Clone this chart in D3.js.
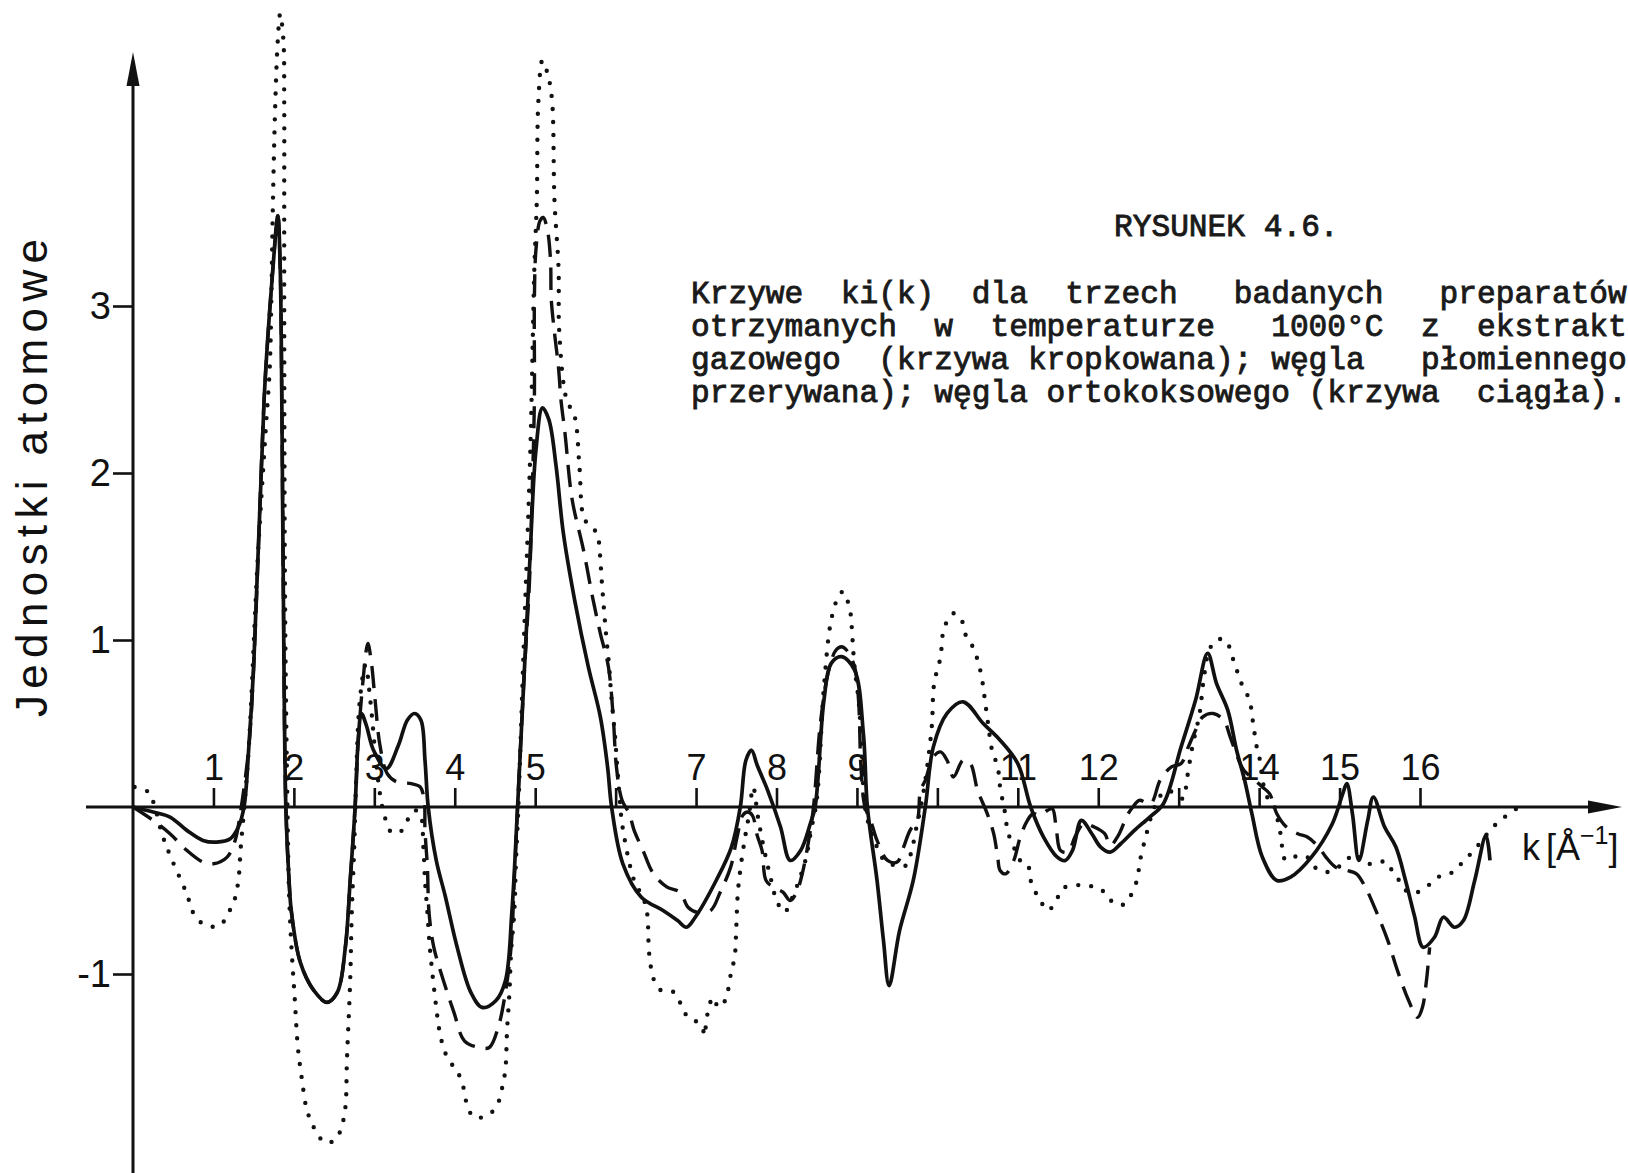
<!DOCTYPE html>
<html>
<head>
<meta charset="utf-8">
<script src="https://cdn.jsdelivr.net/npm/d3@7"></script>
<style>
  html, body { margin: 0; padding: 0; background: #fff; }
  svg { display: block; }
</style>
</head>
<body>
<svg id="chart" width="1628" height="1173"></svg>
<script>
// k axis ticks and their labels (some ticks carry no label)
const kTicks = [1, 2, 3, 4, 5, 6, 7, 8, 9, 10, 11, 12, 13, 14, 15, 16];
const kTickLabels = ["1", "2", "3", "4", "5", "", "7", "8", "9", "", "11", "12", "", "14", "15", "16"];
// vertical axis ticks
const yTicks = [3, 2, 1, -1];
const yTickLabels = ["3", "2", "1", "-1"];

// ki(k) for the coke made from gas-coal extract (dotted curve), pairs [k, ki(k)]
const extractCoke = [
  [0.02,0.12],[0.19,0.09],[0.26,0.02],[0.36,-0.16],[0.47,-0.30],[0.66,-0.51],[0.78,-0.66],[0.92,-0.71],
  [1.08,-0.71],[1.19,-0.63],[1.26,-0.56],[1.31,-0.44],[1.34,-0.24],[1.38,-0.02],[1.44,0.36],[1.55,1.48],
  [1.65,2.26],[1.70,2.63],[1.72,3.04],[1.74,3.63],[1.77,4.23],[1.80,4.59],[1.83,4.75],[1.87,4.59],
  [1.88,4.23],[1.88,3.63],[1.88,3.04],[1.89,1.24],[1.92,0],[1.94,-0.51],[1.97,-0.84],[2.01,-1.14],
  [2.05,-1.44],[2.10,-1.63],[2.16,-1.81],[2.25,-1.92],[2.39,-2.01],[2.52,-1.99],[2.59,-1.92],[2.64,-1.80],
  [2.66,-1.51],[2.70,-1.04],[2.72,-0.63],[2.75,-0.24],[2.77,0.10],[2.82,0.64],[2.89,0.85],[2.95,0.64],
  [3.02,0.28],[3.07,0.08],[3.12,-0.04],[3.21,-0.15],[3.32,-0.15],[3.41,-0.08],[3.50,-0.02],[3.57,-0.04],
  [3.61,-0.24],[3.63,-0.44],[3.66,-0.63],[3.69,-0.84],[3.77,-1.20],[3.81,-1.34],[3.88,-1.47],[3.99,-1.56],
  [4.08,-1.63],[4.17,-1.81],[4.25,-1.86],[4.43,-1.84],[4.54,-1.77],[4.59,-1.68],[4.63,-1.57],[4.65,-1.34],
  [4.68,-1.11],[4.70,-0.87],[4.74,-0.63],[4.76,-0.34],[4.79,-0.01],[4.86,1.00],[4.94,2.14],[4.99,3.23],
  [5.02,3.63],[5.04,4.23],[5.09,4.47],[5.16,4.38],[5.21,4.23],[5.24,3.63],[5.29,3.23],[5.30,2.84],
  [5.39,2.44],[5.49,2.34],[5.55,2.04],[5.60,1.74],[5.68,1.68],[5.77,1.64],[5.80,1.54],[5.83,1.34],
  [5.88,1.04],[5.92,0.84],[5.95,0.64],[5.99,0.44],[6.02,0.24],[6.06,0],[6.08,-0.10],[6.23,-0.44],
  [6.34,-0.54],[6.39,-0.63],[6.42,-0.89],[6.48,-1.04],[6.57,-1.10],[6.73,-1.11],[6.82,-1.19],[6.90,-1.26],
  [6.99,-1.28],[7.08,-1.32],[7.10,-1.37],[7.15,-1.22],[7.21,-1.14],[7.28,-1.20],[7.36,-1.16],[7.44,-0.98],
  [7.48,-0.90],[7.50,-0.72],[7.52,-0.51],[7.56,-0.34],[7.61,-0.18],[7.66,-0.04],[7.71,0.12],[7.77,-0.06],
  [7.84,-0.24],[7.92,-0.41],[8.01,-0.57],[8.10,-0.63],[8.18,-0.56],[8.28,-0.44],[8.37,-0.30],[8.43,-0.14],
  [8.50,0.04],[8.59,0.72],[8.68,1.12],[8.77,1.26],[8.83,1.29],[8.92,1.16],[8.94,1.04],[8.97,0.84],
  [9.02,0.64],[9.05,0.44],[9.10,0],[9.17,-0.14],[9.25,-0.24],[9.34,-0.32],[9.48,-0.35],[9.61,-0.35],
  [9.68,-0.26],[9.74,-0.12],[9.79,-0.01],[9.85,0.16],[9.93,0.48],[9.96,0.74],[10.04,0.90],[10.07,1.04],
  [10.15,1.14],[10.21,1.16],[10.30,1.12],[10.36,1.02],[10.44,0.96],[10.50,0.88],[10.55,0.78],[10.58,0.68],
  [10.63,0.50],[10.68,0.34],[10.75,0.24],[10.78,0.12],[10.85,-0.06],[10.87,-0.14],[10.95,-0.24],[11.03,-0.32],
  [11.12,-0.34],[11.16,-0.44],[11.22,-0.51],[11.28,-0.56],[11.37,-0.62],[11.47,-0.57],[11.55,-0.49],[11.69,-0.47],
  [11.84,-0.47],[12.03,-0.49],[12.11,-0.54],[12.28,-0.59],[12.39,-0.54],[12.48,-0.44],[12.52,-0.32],[12.60,-0.16],
  [12.67,-0.04],[12.76,0.06],[12.86,0.10],[12.95,0.08],[13.06,0.05],[13.10,0.16],[13.17,0.36],[13.26,0.56],
  [13.31,0.76],[13.38,0.94],[13.47,1.00],[13.58,1.00],[13.68,0.88],[13.78,0.74],[13.88,0.64],[13.92,0.52],
  [13.97,0.36],[14.01,0.28],[14.05,0.14],[14.12,0.04],[14.19,0],[14.24,-0.10],[14.28,-0.20],[14.30,-0.30],
  [14.37,-0.32],[14.48,-0.29],[14.60,-0.30],[14.69,-0.36],[14.83,-0.39],[14.95,-0.37],[15.09,-0.32],[15.17,-0.28],
  [15.35,-0.34],[15.47,-0.33],[15.59,-0.33],[15.67,-0.40],[15.76,-0.45],[15.85,-0.51],[15.97,-0.51],[16.13,-0.46],
  [16.26,-0.41],[16.41,-0.39],[16.53,-0.33],[16.67,-0.26],[16.82,-0.17],[16.95,-0.10],[17.08,-0.05],[17.20,-0.01]
];

// ki(k) for the coke made from flame coal (dashed curve)
const flameCoalCoke = [
  [0,0],[0.25,-0.08],[0.46,-0.16],[0.67,-0.26],[0.87,-0.33],[1.00,-0.34],[1.17,-0.30],[1.27,-0.20],
  [1.33,-0.05],[1.44,0.36],[1.50,0.84],[1.63,2.44],[1.68,2.84],[1.74,3.23],[1.80,3.54],[1.83,3.23],
  [1.85,2.44],[1.87,1.24],[1.90,0],[1.94,-0.44],[1.97,-0.63],[2.08,-0.93],[2.25,-1.10],[2.41,-1.17],
  [2.54,-1.11],[2.64,-0.84],[2.70,-0.44],[2.76,-0.01],[2.80,0.40],[2.86,0.76],[2.90,0.94],[2.92,0.98],
  [2.96,0.88],[3.01,0.64],[3.07,0.37],[3.16,0.20],[3.28,0.15],[3.46,0.14],[3.57,0.12],[3.62,0.04],
  [3.63,-0.14],[3.66,-0.36],[3.68,-0.63],[3.74,-0.84],[3.86,-1.04],[3.99,-1.23],[4.12,-1.40],[4.30,-1.44],
  [4.43,-1.44],[4.54,-1.32],[4.63,-1.11],[4.70,-0.84],[4.74,-0.44],[4.78,-0.01],[4.86,0.76],[4.93,1.36],
  [4.96,1.84],[4.99,2.44],[4.99,3.04],[5.01,3.34],[5.06,3.51],[5.10,3.53],[5.15,3.46],[5.19,3.28],
  [5.20,3.04],[5.24,2.84],[5.29,2.63],[5.32,2.44],[5.37,2.24],[5.46,1.84],[5.60,1.54],[5.72,1.24],
  [5.81,1.04],[5.91,0.84],[5.97,0.54],[6.01,0.24],[6.08,0.04],[6.17,-0.04],[6.23,-0.14],[6.34,-0.26],
  [6.47,-0.40],[6.64,-0.48],[6.80,-0.51],[6.90,-0.60],[7.01,-0.63],[7.18,-0.62],[7.30,-0.51],[7.43,-0.36],
  [7.51,-0.18],[7.58,-0.05],[7.64,-0.03],[7.70,-0.05],[7.76,-0.17],[7.82,-0.26],[7.87,-0.44],[7.96,-0.48],
  [8.08,-0.51],[8.17,-0.56],[8.25,-0.51],[8.32,-0.40],[8.40,-0.20],[8.46,0],[8.55,0.52],[8.65,0.82],
  [8.74,0.94],[8.81,0.96],[8.87,0.94],[8.97,0.84],[9.02,0.64],[9.05,0.24],[9.10,0],[9.17,-0.08],
  [9.25,-0.20],[9.38,-0.32],[9.50,-0.33],[9.58,-0.24],[9.66,-0.14],[9.75,-0.08],[9.79,0.10],[9.85,0.16],
  [9.95,0.30],[10.04,0.33],[10.12,0.28],[10.20,0.18],[10.32,0.28],[10.41,0.26],[10.50,0.10],[10.62,-0.04],
  [10.70,-0.16],[10.75,-0.30],[10.78,-0.38],[10.85,-0.40],[10.95,-0.32],[11.03,-0.18],[11.12,-0.08],[11.19,-0.04],
  [11.28,-0.05],[11.37,-0.02],[11.43,-0.01],[11.48,-0.14],[11.53,-0.26],[11.62,-0.27],[11.72,-0.17],[11.82,-0.10],
  [11.95,-0.12],[12.08,-0.16],[12.15,-0.23],[12.25,-0.17],[12.36,-0.05],[12.43,0],[12.51,0.04],[12.65,0.02],
  [12.77,0.16],[12.91,0.24],[13.03,0.26],[13.12,0.36],[13.21,0.46],[13.30,0.54],[13.43,0.56],[13.56,0.52],
  [13.64,0.42],[13.73,0.30],[13.81,0.22],[13.95,0.16],[14.04,0.12],[14.13,0.08],[14.22,-0.04],[14.34,-0.12],
  [14.48,-0.16],[14.60,-0.18],[14.74,-0.24],[14.83,-0.30],[14.95,-0.36],[15.09,-0.38],[15.21,-0.40],[15.32,-0.48],
  [15.46,-0.63],[15.60,-0.80],[15.72,-0.98],[15.86,-1.16],[15.97,-1.26],[16.03,-1.20],[16.08,-1.04],[16.12,-0.84]
];

// ki(k) for the coke made from ortho-coking coal (solid curve)
const orthoCokingCoke = [
  [0,0],[0.25,-0.03],[0.46,-0.06],[0.67,-0.14],[0.87,-0.20],[1.04,-0.21],[1.21,-0.19],[1.31,-0.12],
  [1.38,0],[1.44,0.36],[1.50,0.84],[1.63,2.44],[1.68,2.84],[1.74,3.23],[1.80,3.54],[1.83,3.23],
  [1.85,2.44],[1.87,1.24],[1.90,0],[1.94,-0.44],[1.97,-0.63],[2.08,-0.93],[2.25,-1.10],[2.41,-1.17],
  [2.54,-1.11],[2.64,-0.84],[2.70,-0.44],[2.76,-0.01],[2.80,0.40],[2.84,0.56],[2.90,0.49],[2.99,0.34],
  [3.15,0.23],[3.30,0.37],[3.41,0.52],[3.50,0.56],[3.58,0.52],[3.63,0.28],[3.67,0],[3.77,-0.32],
  [3.88,-0.53],[4.03,-0.84],[4.20,-1.11],[4.34,-1.20],[4.51,-1.16],[4.63,-1.04],[4.71,-0.63],[4.78,-0.01],
  [4.93,1.44],[5.01,2.14],[5.09,2.39],[5.17,2.32],[5.26,2.04],[5.35,1.64],[5.49,1.24],[5.66,0.84],
  [5.81,0.54],[5.90,0.24],[5.95,0],[6.09,-0.34],[6.32,-0.54],[6.59,-0.62],[6.77,-0.68],[6.88,-0.72],
  [6.99,-0.66],[7.25,-0.44],[7.44,-0.24],[7.55,0],[7.62,0.28],[7.69,0.34],[7.76,0.25],[7.89,0.10],
  [8.05,-0.12],[8.17,-0.32],[8.30,-0.26],[8.42,-0.10],[8.48,0],[8.59,0.64],[8.68,0.86],[8.81,0.90],
  [8.97,0.82],[9.08,0.44],[9.13,0],[9.25,-0.44],[9.33,-0.80],[9.40,-1.07],[9.53,-0.74],[9.70,-0.44],
  [9.85,0],[9.95,0.36],[10.12,0.56],[10.32,0.63],[10.57,0.50],[10.78,0.40],[11.00,0.26],[11.16,0],
  [11.32,-0.18],[11.49,-0.30],[11.59,-0.32],[11.68,-0.26],[11.79,-0.08],[11.92,-0.16],[12.03,-0.24],[12.15,-0.27],
  [12.28,-0.22],[12.45,-0.14],[12.64,-0.06],[12.81,0.02],[13.03,0.36],[13.21,0.64],[13.36,0.92],[13.47,0.74],
  [13.61,0.58],[13.72,0.34],[13.82,0.16],[13.91,-0.04],[14.04,-0.30],[14.22,-0.44],[14.39,-0.42],[14.65,-0.30],
  [14.91,-0.10],[15.04,0.08],[15.09,0.14],[15.16,-0.04],[15.24,-0.32],[15.35,-0.08],[15.42,0.06],[15.56,-0.12],
  [15.70,-0.24],[15.82,-0.44],[15.93,-0.65],[16.04,-0.84],[16.18,-0.78],[16.29,-0.66],[16.43,-0.72],[16.54,-0.68],
  [16.68,-0.44],[16.82,-0.17],[16.87,-0.32]
];

// figure caption, typed in a monospaced face with justified spacing
const captionTitle = "RYSUNEK 4.6.";
const captionLines = [
  "Krzywe  ki(k)  dla  trzech   badanych   preparatów",
  "otrzymanych  w  temperaturze   1000°C  z  ekstrakt",
  "gazowego  (krzywa kropkowana); węgla   płomiennego",
  "przerywana); węgla ortokoksowego (krzywa  ciągła)."
];
const yTitle = "Jednostki atomowe";

const svg = d3.select("#chart");
const INK = "#111";
const SANS = "'Liberation Sans', Arial, sans-serif";
const MONO = "'Liberation Mono', 'Courier New', monospace";

const x = d3.scaleLinear().domain([0, 16]).range([133, 1420]);
const y = d3.scaleLinear().domain([-1, 3]).range([974, 306]);

// ---- axes ----
const xAxis = d3.axisTop(x)
  .tickValues(kTicks)
  .tickSize(19)
  .tickPadding(8)
  .tickFormat(d => kTickLabels[kTicks.indexOf(d)]);

const gx = svg.append("g")
  .attr("transform", `translate(0,${y(0)})`)
  .call(xAxis);
gx.select(".domain").remove();
gx.selectAll(".tick line").attr("stroke", INK).attr("stroke-width", 2.6);
gx.selectAll(".tick text")
  .attr("fill", INK)
  .style("font-family", SANS)
  .style("font-size", "36px");

const yAxis = d3.axisLeft(y)
  .tickValues(yTicks)
  .tickSize(20)
  .tickPadding(2)
  .tickFormat(d => yTickLabels[yTicks.indexOf(d)]);

const gy = svg.append("g")
  .attr("transform", `translate(${x(0)},0)`)
  .call(yAxis);
gy.select(".domain").remove();
gy.selectAll(".tick line").attr("stroke", INK).attr("stroke-width", 2.6);
gy.selectAll(".tick text")
  .attr("fill", INK)
  .style("font-family", SANS)
  .style("font-size", "38px");

// axis lines with arrow heads
const x0 = x(0), y0 = y(0);
svg.append("line")
  .attr("x1", 86).attr("x2", 1596)
  .attr("y1", y0).attr("y2", y0)
  .attr("stroke", INK).attr("stroke-width", 3);
svg.append("path")
  .attr("d", `M1622,${y0} L1588,${y0 - 6.5} L1588,${y0 + 6.5} Z`)
  .attr("fill", INK);

svg.append("line")
  .attr("x1", x0).attr("x2", x0)
  .attr("y1", 1173).attr("y2", 80)
  .attr("stroke", INK).attr("stroke-width", 3);
svg.append("path")
  .attr("d", `M${x0},52 L${x0 - 6.5},86 L${x0 + 6.5},86 Z`)
  .attr("fill", INK);

// axis titles
svg.append("text")
  .attr("transform", "translate(47,717) rotate(-90)")
  .attr("textLength", 478)
  .attr("lengthAdjust", "spacing")
  .attr("fill", INK)
  .style("font-family", SANS)
  .style("font-size", "44px")
  .text(yTitle);

const kLabel = svg.append("text")
  .attr("x", 1522).attr("y", 860)
  .attr("fill", INK)
  .style("font-family", SANS)
  .style("font-size", "36px");
kLabel.append("tspan").text("k");
kLabel.append("tspan").attr("dx", 6).text("[Å");
kLabel.append("tspan").attr("dy", -16).style("font-size", "25px").text("−1");
kLabel.append("tspan").attr("dy", 16).text("]");

// ---- curves ----
const line = d3.line()
  .x(d => x(d[0]))
  .y(d => y(d[1]))
  .curve(d3.curveCatmullRom.alpha(0.5));

svg.append("path")
  .datum(extractCoke)
  .attr("d", line)
  .attr("fill", "none")
  .attr("stroke", INK)
  .attr("stroke-width", 4.4)
  .attr("stroke-linecap", "round")
  .attr("stroke-dasharray", "0 13");

svg.append("path")
  .datum(flameCoalCoke)
  .attr("d", line)
  .attr("fill", "none")
  .attr("stroke", INK)
  .attr("stroke-width", 3.4)
  .attr("stroke-dasharray", "22 11");

svg.append("path")
  .datum(orthoCokingCoke)
  .attr("d", line)
  .attr("fill", "none")
  .attr("stroke", INK)
  .attr("stroke-width", 3.7)
  .attr("stroke-linejoin", "round");

// ---- caption ----
const cap = svg.append("g")
  .attr("fill", "#1a1a1a")
  .attr("stroke", "#1a1a1a")
  .attr("stroke-width", 0.9)
  .style("font-family", MONO)
  .style("font-size", "31.2px");

cap.append("text")
  .attr("x", 1114).attr("y", 236)
  .attr("xml:space", "preserve")
  .style("white-space", "pre")
  .text(captionTitle);

cap.selectAll("text.line")
  .data(captionLines)
  .join("text")
  .attr("class", "line")
  .attr("x", 691)
  .attr("y", (d, i) => 303 + i * 33)
  .attr("xml:space", "preserve")
  .style("white-space", "pre")
  .text(d => d);
</script>
</body>
</html>
